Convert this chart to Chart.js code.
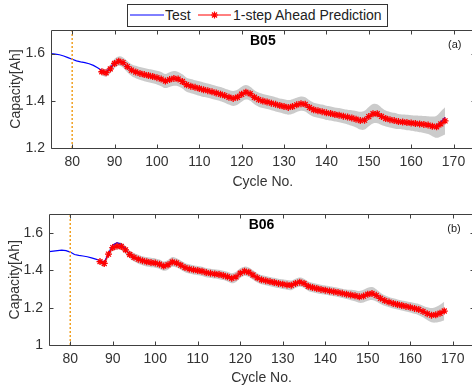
<!DOCTYPE html>
<html>
<head>
<meta charset="utf-8">
<script src="https://cdn.jsdelivr.net/npm/chart.js@4.4.0/dist/chart.umd.min.js"></script>
<style>
html, body { margin: 0; padding: 0; overflow: hidden; background: #fff; width: 472px; height: 392px; }
.quadro { position: absolute; left: 0; }
#legenda { position: absolute; left: 127px; top: 4px; width: 261px; height: 23px; box-sizing: border-box;
  border: 1px solid #333; background: #fff; font: 14px "Liberation Sans", Arial, sans-serif; color: #222; z-index: 2; }
#legenda span, #legenda svg { position: absolute; }
#legenda span { top: 2px; line-height: 16px; white-space: nowrap; }
</style>
</head>
<body>
<div class="quadro" style="top:0"><canvas id="graficoB05" width="480" height="200"></canvas></div>
<div class="quadro" style="top:200px"><canvas id="graficoB06" width="480" height="192"></canvas></div>
<div id="legenda">
  <svg style="left:2px;top:5px" width="35" height="10"><line x1="0" y1="5" x2="34" y2="5" stroke="#0000ff" stroke-width="1"/></svg>
  <span style="left:37px">Test</span>
  <svg style="left:70px;top:5px" width="34" height="10">
    <line x1="0" y1="5" x2="33" y2="5" stroke="#ff0000" stroke-width="1"/>
    <path d="M16.5 1.5 V8.5 M13 5 H20 M14 2.5 L19 7.5 M19 2.5 L14 7.5" stroke="#ff0000" stroke-width="1.2"/>
  </svg>
  <span style="left:105px">1-step Ahead Prediction</span>
</div>

<script>
// ciclos
const cicloInicioTeste = 75;
const cicloInicioPrevisao = 87;
const cicloCorte = 80;

const ticksX = [80, 90, 100, 110, 120, 130, 140, 150, 160, 170];
const ticksYB05 = [1.2, 1.4, 1.6];
const ticksYB06 = [1, 1.2, 1.4, 1.6];

// B05 - capacidade medida (75..168)
const testeB05 = [
  1.600, 1.598, 1.595, 1.590, 1.583, 1.576, 1.569, 1.565, 1.562, 1.557,
  1.550, 1.540, 1.528, 1.522, 1.540, 1.561, 1.566, 1.560, 1.544, 1.530,
  1.521, 1.516, 1.511, 1.506, 1.503, 1.497, 1.491, 1.483, 1.491, 1.495,
  1.491, 1.481, 1.467, 1.462, 1.456, 1.452, 1.446, 1.443, 1.437, 1.433,
  1.427, 1.422, 1.414, 1.410, 1.416, 1.429, 1.436, 1.429, 1.414, 1.405,
  1.398, 1.395, 1.389, 1.385, 1.379, 1.376, 1.371, 1.377, 1.384, 1.388,
  1.384, 1.371, 1.362, 1.357, 1.354, 1.348, 1.346, 1.341, 1.339, 1.334,
  1.331, 1.326, 1.322, 1.315, 1.320, 1.335, 1.345, 1.344, 1.333, 1.325,
  1.319, 1.316, 1.311, 1.310, 1.307, 1.306, 1.303, 1.302, 1.299, 1.297,
  1.291, 1.292, 1.310, 1.330
];
// B05 - previsao 1 passo (87..168)
const previsaoB05 = [
  1.523, 1.519, 1.535, 1.558, 1.568, 1.562, 1.545, 1.530, 1.522, 1.516,
  1.511, 1.507, 1.503, 1.498, 1.492, 1.484, 1.490, 1.495, 1.492, 1.482,
  1.468, 1.462, 1.457, 1.452, 1.447, 1.443, 1.438, 1.433, 1.428, 1.422,
  1.415, 1.410, 1.415, 1.428, 1.436, 1.430, 1.415, 1.405, 1.399, 1.395,
  1.390, 1.385, 1.380, 1.376, 1.372, 1.376, 1.383, 1.388, 1.385, 1.372,
  1.362, 1.358, 1.354, 1.349, 1.346, 1.342, 1.339, 1.335, 1.331, 1.327,
  1.322, 1.316, 1.318, 1.333, 1.345, 1.345, 1.334, 1.325, 1.320, 1.316,
  1.312, 1.310, 1.308, 1.306, 1.304, 1.302, 1.300, 1.297, 1.292, 1.290,
  1.302, 1.315
];
// B05 - meia largura da faixa de incerteza (87..168)
const faixaB05 = [
  0.016, 0.016, 0.018, 0.020, 0.020, 0.022, 0.024, 0.025, 0.026, 0.027,
  0.028, 0.028, 0.029, 0.029, 0.030, 0.030, 0.031, 0.031, 0.030, 0.030,
  0.030, 0.030, 0.030, 0.031, 0.031, 0.030, 0.030, 0.030, 0.030, 0.030,
  0.031, 0.032, 0.032, 0.032, 0.031, 0.030, 0.030, 0.030, 0.030, 0.030,
  0.030, 0.030, 0.030, 0.031, 0.031, 0.031, 0.030, 0.030, 0.030, 0.030,
  0.030, 0.030, 0.030, 0.030, 0.030, 0.030, 0.030, 0.030, 0.031, 0.033,
  0.035, 0.038, 0.040, 0.041, 0.041, 0.040, 0.037, 0.034, 0.033, 0.033,
  0.032, 0.032, 0.033, 0.033, 0.034, 0.035, 0.036, 0.038, 0.042, 0.047,
  0.053, 0.058
];

// B06 - capacidade medida (75..168)
const testeB06 = [
  1.500, 1.503, 1.506, 1.508, 1.506, 1.498, 1.485, 1.480, 1.477, 1.473,
  1.467, 1.460, 1.453, 1.445, 1.490, 1.535, 1.548, 1.540, 1.512, 1.486,
  1.470, 1.460, 1.451, 1.446, 1.441, 1.439, 1.432, 1.422, 1.431, 1.445,
  1.439, 1.427, 1.415, 1.407, 1.403, 1.398, 1.395, 1.387, 1.384, 1.380,
  1.378, 1.372, 1.366, 1.357, 1.366, 1.386, 1.395, 1.389, 1.375, 1.359,
  1.350, 1.344, 1.340, 1.334, 1.330, 1.325, 1.322, 1.319, 1.331, 1.337,
  1.329, 1.315, 1.307, 1.303, 1.297, 1.294, 1.289, 1.286, 1.281, 1.277,
  1.271, 1.268, 1.263, 1.258, 1.263, 1.273, 1.276, 1.265, 1.249, 1.238,
  1.229, 1.223, 1.216, 1.212, 1.206, 1.202, 1.195, 1.190, 1.179, 1.168,
  1.159, 1.163, 1.171, 1.183
];
// B06 - previsao 1 passo (87..168)
const previsaoB06 = [
  1.447, 1.437, 1.487, 1.522, 1.530, 1.528, 1.510, 1.485, 1.470, 1.460,
  1.452, 1.446, 1.442, 1.439, 1.433, 1.423, 1.430, 1.445, 1.440, 1.428,
  1.415, 1.408, 1.403, 1.399, 1.395, 1.388, 1.384, 1.381, 1.378, 1.373,
  1.366, 1.358, 1.365, 1.385, 1.395, 1.390, 1.375, 1.360, 1.350, 1.345,
  1.340, 1.335, 1.330, 1.326, 1.322, 1.320, 1.330, 1.337, 1.330, 1.315,
  1.308, 1.303, 1.298, 1.294, 1.290, 1.286, 1.282, 1.277, 1.272, 1.268,
  1.264, 1.258, 1.262, 1.272, 1.276, 1.266, 1.250, 1.238, 1.230, 1.223,
  1.217, 1.212, 1.207, 1.202, 1.196, 1.190, 1.180, 1.168, 1.160, 1.162,
  1.170, 1.182
];
// B06 - meia largura da faixa de incerteza (87..168)
const faixaB06 = [
  0.015, 0.015, 0.017, 0.018, 0.019, 0.020, 0.021, 0.022, 0.023, 0.024,
  0.024, 0.025, 0.025, 0.025, 0.025, 0.025, 0.026, 0.026, 0.025, 0.025,
  0.025, 0.025, 0.025, 0.025, 0.025, 0.025, 0.025, 0.025, 0.025, 0.025,
  0.026, 0.027, 0.027, 0.026, 0.025, 0.025, 0.025, 0.025, 0.025, 0.025,
  0.025, 0.025, 0.025, 0.026, 0.026, 0.026, 0.025, 0.025, 0.025, 0.025,
  0.025, 0.025, 0.025, 0.025, 0.025, 0.025, 0.025, 0.025, 0.026, 0.028,
  0.030, 0.032, 0.034, 0.035, 0.035, 0.033, 0.030, 0.028, 0.027, 0.027,
  0.027, 0.027, 0.028, 0.028, 0.029, 0.030, 0.031, 0.034, 0.038, 0.042,
  0.046, 0.050
];

const fonte = '"Liberation Sans", Arial, sans-serif';
const corTexto = '#333';

function pontos(inicio, valores) {
  return valores.map((v, i) => ({ x: inicio + i, y: v }));
}

// caixa estilo matlab: borda + ticks para dentro + rotulos do painel
const caixaMatlab = {
  id: 'caixaMatlab',
  afterDatasetsDraw(chart, args, opcoes) {
    const { ctx, chartArea: a, scales } = chart;
    const L = Math.round(a.left) + 0.5, R = Math.round(a.right) + 0.5;
    const T = Math.round(a.top) + 0.5, B = Math.round(a.bottom) + 0.5;
    ctx.save();
    ctx.strokeStyle = '#404040';
    ctx.lineWidth = 1;
    ctx.beginPath();
    ctx.rect(L, T, R - L, B - T);
    scales.x.ticks.forEach(t => {
      const px = Math.round(scales.x.getPixelForValue(t.value)) + 0.5;
      ctx.moveTo(px, B); ctx.lineTo(px, B - 4);
      ctx.moveTo(px, T); ctx.lineTo(px, T + 4);
    });
    scales.y.ticks.forEach(t => {
      const py = Math.round(scales.y.getPixelForValue(t.value)) + 0.5;
      ctx.moveTo(L, py); ctx.lineTo(L + 4, py);
      ctx.moveTo(R, py); ctx.lineTo(R - 4, py);
    });
    ctx.stroke();
    ctx.fillStyle = '#000';
    ctx.textAlign = 'center';
    ctx.textBaseline = 'middle';
    ctx.font = 'bold 14px ' + fonte;
    ctx.fillText(opcoes.nome, (a.left + a.right) / 2, a.top + 11);
    ctx.font = '11px ' + fonte;
    ctx.fillStyle = '#222';
    ctx.fillText(opcoes.letra, a.right - 20, a.top + 15);
    ctx.restore();
  }
};

function criarGrafico(id, o) {
  const ctx = document.getElementById(id).getContext('2d');
  const superior = o.previsao.map((v, i) => v + o.faixa[i]);
  const inferior = o.previsao.map((v, i) => v - o.faixa[i]);
  const fonteEixo = { family: fonte, size: 14 };

  return new Chart(ctx, {
    type: 'line',
    data: {
      datasets: [
        { data: pontos(cicloInicioPrevisao, superior), fill: '+1', backgroundColor: '#cbcbcb',
          borderWidth: 0, borderColor: 'rgba(0,0,0,0)', pointRadius: 0, tension: 0.4, order: 10 },
        { data: pontos(cicloInicioPrevisao, inferior), fill: false,
          borderWidth: 0, borderColor: 'rgba(0,0,0,0)', pointRadius: 0, tension: 0.4, order: 10 },
        { label: 'Test', data: pontos(cicloInicioTeste, o.teste), borderColor: '#0000ff', borderWidth: 1.2,
          pointRadius: 0, fill: false, order: 3 },
        { label: '1-step Ahead Prediction', data: pontos(cicloInicioPrevisao, o.previsao), borderColor: '#ff0000',
          borderWidth: 1.2, pointStyle: 'star', pointRadius: 3.5, pointBorderColor: '#ff0000', pointBorderWidth: 1.3,
          fill: false, order: 2 },
        { data: [{ x: cicloCorte, y: o.yMin }, { x: cicloCorte, y: o.yMax }], borderColor: '#f0a020',
          borderWidth: 1.5, borderDash: [2, 2], pointRadius: 0, fill: false, order: 1 }
      ]
    },
    options: {
      responsive: false,
      animation: false,
      layout: { padding: { left: 0, right: o.padDir, top: o.padTopo, bottom: 0 } },
      plugins: {
        legend: { display: false },
        tooltip: { enabled: false },
        caixaMatlab: { nome: o.nome, letra: o.letra }
      },
      scales: {
        x: {
          type: 'linear', min: 75, max: 175,
          afterBuildTicks: s => { s.ticks = ticksX.map(v => ({ value: v })); },
          afterFit: s => { s.height = o.altX; },
          grid: { display: false, drawTicks: false },
          border: { display: false },
          ticks: { font: fonteEixo, color: corTexto, padding: 6, maxRotation: 0, callback: v => String(v) },
          title: { display: true, text: 'Cycle No.', font: fonteEixo, color: corTexto, padding: { top: 0, bottom: o.padTitX } }
        },
        y: {
          type: 'linear', min: o.yMin, max: o.yMax,
          afterBuildTicks: s => { s.ticks = o.ticksY.map(v => ({ value: v })); },
          afterFit: s => { s.width = o.largY; },
          grid: { display: false, drawTicks: false },
          border: { display: false },
          ticks: { font: fonteEixo, color: corTexto, padding: 6, callback: v => String(v) },
          title: { display: true, text: 'Capacity[Ah]', font: fonteEixo, color: corTexto, padding: { top: o.padTitY, bottom: 0 } }
        }
      }
    },
    plugins: [caixaMatlab]
  });
}

criarGrafico('graficoB05', {
  teste: testeB05, previsao: previsaoB05, faixa: faixaB05, ticksY: ticksYB05,
  yMin: 1.2, yMax: 1.7, nome: 'B05', letra: '(a)',
  padTopo: 30, padDir: 5, largY: 51, altX: 52, padTitX: 9, padTitY: 8
});

criarGrafico('graficoB06', {
  teste: testeB06, previsao: previsaoB06, faixa: faixaB06, ticksY: ticksYB06,
  yMin: 1, yMax: 1.7, nome: 'B06', letra: '(b)',
  padTopo: 10, padDir: 6, largY: 49, altX: 47, padTitX: 5, padTitY: 7
});
</script>
</body>
</html>
